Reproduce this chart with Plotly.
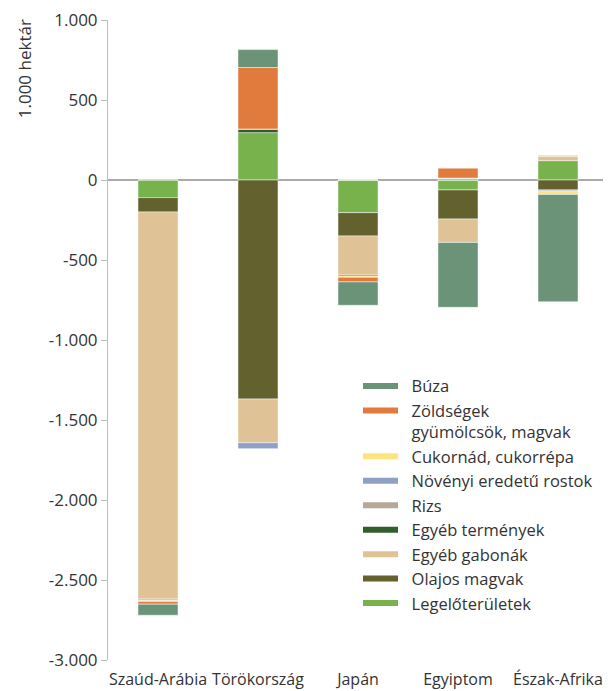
import plotly.graph_objects as go

categories = ["Szaúd-Arábia", "Törökország", "Japán", "Egyiptom", "Észak-Afrika"]

# series values (1.000 hektár), order: Szaúd-Arábia, Törökország, Japán, Egyiptom, Észak-Afrika
legelo = [-110, 296, -204, -62, 121]
olajos = [-90, -1369, -146, -182, -62]
gabonak = [-2419, -273, -244, -146, 29]
egyeb_termenyek = [-5, 23, -6, 0, 0]
rizs = [-5, 0, 0, 12, 6]
rostok = [0, -37, 0, 0, -6]
cukor = [-5, 0, -8, 0, -22]
zoldsegek = [-17, 384, -29, 62, 0]
buza = [-69, 112, -146, -406, -671]

tick_vals = [1000, 500, 0, -500, -1000, -1500, -2000, -2500, -3000]
tick_text = ["1.000", "500", "0", "-500", "-1.000", "-1.500", "-2.000", "-2.500", "-3.000"]

# stacking order from zero outward
series = [
    ("Legelőterületek", legelo, "#77b24c"),
    ("Olajos magvak", olajos, "#63622e"),
    ("Egyéb gabonák", gabonak, "#dfc295"),
    ("Egyéb termények", egyeb_termenyek, "#305f2b"),
    ("Rizs", rizs, "#b9a797"),
    ("Növényi eredetű rostok", rostok, "#8fa0c6"),
    ("Cukornád, cukorrépa", cukor, "#ffe37e"),
    ("Zöldségek<br>gyümölcsök, magvak", zoldsegek, "#e07b3d"),
    ("Búza", buza, "#6b9378"),
]

FONT = "Open Sans"
TXT = "#333333"
PAD = "\u00a0\u00a0"
fig = go.Figure()
for name, vals, col in series:
    fig.add_trace(go.Bar(
        x=categories, y=vals, name=name, marker_color=col,
        marker_line=dict(color="rgba(255,255,255,0.6)", width=0.8),
        showlegend=False,
    ))

# legend entries (line symbols), top to bottom
for name, vals, col in reversed(series):
    label = PAD + name.replace("<br>", "<br>" + PAD)
    fig.add_trace(go.Scatter(
        x=[None], y=[None], mode="lines", name=label,
        line=dict(color=col, width=6), showlegend=True,
        legendgroup=name,
    ))

fig.update_layout(
    width=603, height=683,
    barmode="relative", bargap=0.6,
    paper_bgcolor="white", plot_bgcolor="white",
    margin=dict(l=100, r=3, t=12, b=31),
    font=dict(family=FONT, size=16, color=TXT),
    legend=dict(
        x=0.5, xanchor="left", y=0.455, yanchor="top",
        traceorder="grouped", tracegroupgap=0, valign="top",
        bgcolor="rgba(0,0,0,0)", itemwidth=35,
        font=dict(family=FONT, size=16.5, color=TXT),
    ),
    xaxis=dict(
        showline=False, ticks="", showgrid=False, zeroline=False,
        tickangle=0, automargin=False, ticklabelstandoff=8,
        tickfont=dict(size=16, color=TXT),
    ),
    yaxis=dict(
        range=[-3000, 1000], tickvals=tick_vals, ticktext=tick_text,
        showgrid=False, showline=True, linecolor="#bdbdbd", linewidth=1,
        ticks="outside", ticklen=6, tickcolor="#bdbdbd",
        zeroline=True, zerolinecolor="#aaaaaa", zerolinewidth=2,
        automargin=False, ticklabeloverflow="allow",
        tickfont=dict(size=17, color=TXT),
    ),
    annotations=[dict(
        text="1.000 hektár", textangle=-90, xref="paper", yref="paper",
        x=-0.168, y=0.923, xanchor="center", yanchor="middle",
        showarrow=False, font=dict(family=FONT, size=17, color=TXT),
    )],
)

fig.write_html("out.html")
